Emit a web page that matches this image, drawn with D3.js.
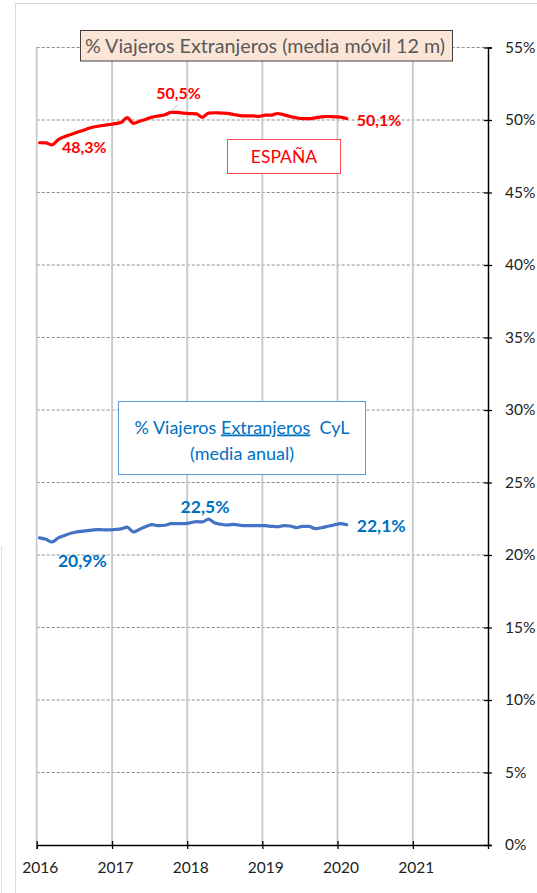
<!DOCTYPE html>
<html>
<head>
<meta charset="utf-8">
<script src="https://cdn.jsdelivr.net/npm/d3@7"></script>
<style>
  body { margin: 0; background: #fff; }
  svg { display: block; font-family: Lato, "Open Sans", sans-serif; }
</style>
</head>
<body>
<svg width="537" height="893"></svg>
<script>
// months (Jan 2016 - Feb 2020)
const months = [
  "2016-01","2016-02","2016-03","2016-04","2016-05","2016-06","2016-07","2016-08","2016-09","2016-10","2016-11","2016-12",
  "2017-01","2017-02","2017-03","2017-04","2017-05","2017-06","2017-07","2017-08","2017-09","2017-10","2017-11","2017-12",
  "2018-01","2018-02","2018-03","2018-04","2018-05","2018-06","2018-07","2018-08","2018-09","2018-10","2018-11","2018-12",
  "2019-01","2019-02","2019-03","2019-04","2019-05","2019-06","2019-07","2019-08","2019-09","2019-10","2019-11","2019-12",
  "2020-01","2020-02"
];

// % viajeros extranjeros, España (media móvil 12 m)
const espana = [
  48.43,48.42,48.28,48.65,48.85,49.00,49.15,49.30,49.45,49.55,49.62,49.68,
  49.75,49.84,50.16,49.77,49.92,50.05,50.20,50.28,50.36,50.52,50.52,50.47,
  50.44,50.42,50.18,50.48,50.50,50.48,50.46,50.38,50.30,50.28,50.28,50.25,
  50.33,50.34,50.45,50.35,50.25,50.15,50.09,50.09,50.15,50.22,50.24,50.22,
  50.20,50.10
];

// % viajeros extranjeros, CyL (media anual)
const cyl = [
  21.18,21.08,20.90,21.18,21.35,21.50,21.60,21.65,21.70,21.75,21.74,21.73,
  21.76,21.80,21.92,21.59,21.78,21.97,22.09,22.02,22.05,22.16,22.16,22.16,
  22.22,22.30,22.28,22.48,22.20,22.12,22.07,22.11,22.05,22.02,22.02,22.02,
  22.02,21.98,21.95,22.02,22.00,21.88,21.97,21.97,21.82,21.88,21.98,22.07,
  22.16,22.09
];

const years = [2016, 2017, 2018, 2019, 2020, 2021];
const pctTicks = [0, 5, 10, 15, 20, 25, 30, 35, 40, 45, 50, 55];

// labelled points: index into the series and text
const espanaLabels = [
  { i: 2, text: "48,3%" },
  { i: 21, text: "50,5%" },
  { i: 49, text: "50,1%" }
];
const cylLabels = [
  { i: 2, text: "20,9%" },
  { i: 27, text: "22,5%" },
  { i: 49, text: "22,1%" }
];

const svg = d3.select("svg");
const plotLeft = 36.7, plotRight = 488, plotTop = 47.5, plotBottom = 845;

const parseMonth = d3.timeParse("%Y-%m");
const dates = months.map((m) => d3.timeDay.offset(parseMonth(m), 14));

const x = d3.scaleTime()
  .domain([new Date(2016, 0, 1), new Date(2022, 0, 1)])
  .range([plotLeft, plotRight]);
const y = d3.scaleLinear().domain([0, 55]).range([plotBottom, plotTop]);

// chart frame
svg.append("rect")
  .attr("x", 15.5).attr("y", 3.5).attr("width", 600).attr("height", 1000)
  .attr("fill", "none").attr("stroke", "#d9d9d9");
svg.append("path")
  .attr("d", "M-2,546.5H1.5V900")
  .attr("fill", "none").attr("stroke", "#e0e0e0");

// horizontal gridlines
svg.append("g")
  .selectAll("line")
  .data(pctTicks.filter((d) => d > 0))
  .join("line")
  .attr("x1", plotLeft).attr("x2", plotRight)
  .attr("y1", (d) => y(d)).attr("y2", (d) => y(d))
  .attr("stroke", "#8c8c8c")
  .attr("stroke-dasharray", "3,2");

// vertical gridlines
svg.append("g")
  .selectAll("line")
  .data(years)
  .join("line")
  .attr("x1", (d) => x(new Date(d, 0, 1))).attr("x2", (d) => x(new Date(d, 0, 1)))
  .attr("y1", plotTop).attr("y2", plotBottom)
  .attr("stroke", "#c8c8c8")
  .attr("stroke-width", 1.8);

// axes
const xAxis = d3.axisBottom(x)
  .tickValues(years.map((d) => new Date(d, 0, 1)))
  .tickFormat(d3.timeFormat("%Y"))
  .tickSizeOuter(0)
  .tickSize(4);
const gx = svg.append("g")
  .attr("transform", `translate(0,${plotBottom})`)
  .call(xAxis);
gx.select(".domain").attr("stroke", "#000").attr("stroke-width", 1.3);
gx.selectAll(".tick line").attr("y1", -4).attr("stroke", "#000").attr("stroke-width", 1.3);
gx.selectAll(".tick text")
  .attr("y", 28).attr("dy", null).attr("dx", 3)
  .attr("font-family", "Lato, sans-serif")
  .attr("font-size", 15.5).attr("fill", "#222");

const yAxis = d3.axisRight(y)
  .tickValues(pctTicks)
  .tickFormat((d) => d + "%")
  .tickSizeOuter(0)
  .tickSize(4)
  .tickPadding(13);
const gy = svg.append("g")
  .attr("transform", `translate(${plotRight},0)`)
  .call(yAxis);
gy.select(".domain").attr("stroke", "#000").attr("stroke-width", 1.5);
gy.selectAll(".tick line").attr("x1", -4).attr("stroke", "#000").attr("stroke-width", 1.3);
gy.selectAll(".tick text")
  .attr("font-family", "Lato, sans-serif")
  .attr("font-size", 15.5).attr("fill", "#222");

// lines
const line = d3.line()
  .x((d, i) => x(dates[i]))
  .y((d) => y(d))
  .curve(d3.curveMonotoneX);

svg.append("path")
  .datum(espana)
  .attr("fill", "none")
  .attr("stroke", "#ff0000")
  .attr("stroke-width", 3.2)
  .attr("stroke-linejoin", "round")
  .attr("stroke-linecap", "round")
  .attr("d", line);

svg.append("path")
  .datum(cyl)
  .attr("fill", "none")
  .attr("stroke", "#4472c4")
  .attr("stroke-width", 3.2)
  .attr("stroke-linejoin", "round")
  .attr("stroke-linecap", "round")
  .attr("d", line);

// data labels
const espOffsets = [[10, 8], [-15, -13.5], [10, 7]];
svg.append("g")
  .selectAll("text")
  .data(espanaLabels)
  .join("text")
  .attr("x", (d, k) => x(dates[d.i]) + espOffsets[k][0])
  .attr("y", (d, k) => y(espana[d.i]) + espOffsets[k][1])
  .attr("font-size", 16)
  .attr("font-weight", "bold")
  .attr("fill", "#ff0000")
  .text((d) => d.text);

// leader line for the peak label
const peak = espanaLabels[1];
svg.append("line")
  .attr("x1", x(dates[peak.i])).attr("y1", y(espana[peak.i]) - 1)
  .attr("x2", x(dates[peak.i]) + 7).attr("y2", y(espana[peak.i]) - 8)
  .attr("stroke", "#a6a6a6").attr("stroke-width", 0.8);

const cylOffsets = [[6, 25], [-28, -6], [10, 7]];
svg.append("g")
  .selectAll("text")
  .data(cylLabels)
  .join("text")
  .attr("x", (d, k) => x(dates[d.i]) + cylOffsets[k][0])
  .attr("y", (d, k) => y(cyl[d.i]) + cylOffsets[k][1])
  .attr("font-size", 17.5)
  .attr("font-weight", "bold")
  .attr("fill", "#0070c0")
  .text((d) => d.text);

// title box
svg.append("rect")
  .attr("x", 80.5).attr("y", 30.5).attr("width", 372).attr("height", 30.5)
  .attr("fill", "#fbe5d6").attr("stroke", "#404040").attr("stroke-width", 1);
svg.append("text")
  .attr("x", 265).attr("y", 52.5)
  .attr("text-anchor", "middle")
  .attr("font-size", 19.7)
  .attr("fill", "#595959")
  .text("% Viajeros Extranjeros (media móvil 12 m)");

// ESPAÑA box
svg.append("rect")
  .attr("x", 227.5).attr("y", 139.5).attr("width", 113).attr("height", 34)
  .attr("fill", "#fff").attr("stroke", "#ff4b4b").attr("stroke-width", 1);
svg.append("text")
  .attr("x", 284).attr("y", 163)
  .attr("text-anchor", "middle")
  .attr("font-size", 17.5)
  .attr("fill", "#ff0000")
  .text("ESPAÑA");

// CyL box
svg.append("rect")
  .attr("x", 118.5).attr("y", 401.5).attr("width", 247).attr("height", 73)
  .attr("fill", "#fff").attr("stroke", "#5b9bd5").attr("stroke-width", 1);
const t1 = svg.append("text")
  .attr("x", 242).attr("y", 433.5)
  .attr("text-anchor", "middle")
  .attr("font-size", 18)
  .attr("fill", "#0070c0")
  .attr("xml:space", "preserve");
t1.append("tspan").text("% Viajeros ");
t1.append("tspan").style("text-decoration", "underline").text("Extranjeros");
t1.append("tspan").text("  CyL");
svg.append("text")
  .attr("x", 242).attr("y", 459.5)
  .attr("text-anchor", "middle")
  .attr("font-size", 18)
  .attr("fill", "#0070c0")
  .text("(media anual)");
</script>
</body>
</html>
